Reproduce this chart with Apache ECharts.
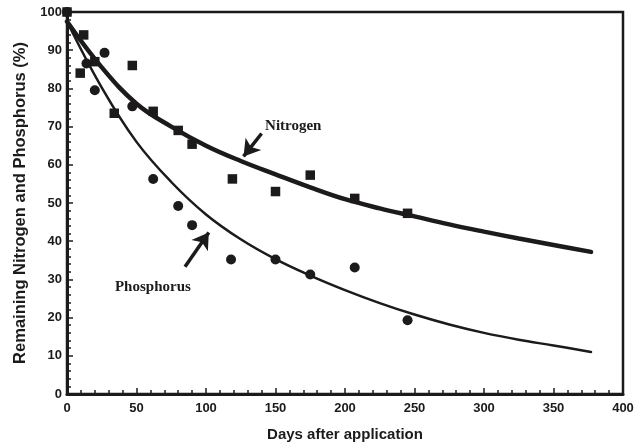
<!DOCTYPE html>
<html><head><meta charset="utf-8">
<script src="https://cdn.jsdelivr.net/npm/echarts@6/dist/echarts.min.js"></script>
<style>html,body{margin:0;padding:0;background:#fff}#c{width:637px;height:445px}</style>
</head><body><div id="c"></div>
<script>
// Observed data
const nitrogenDays = [0, 9.5, 12, 20, 34, 47, 62, 80, 90, 119, 150, 175, 207, 245];
const nitrogenVals = [100, 84, 94, 87, 73.5, 86, 74, 69, 65.4, 56.3, 53, 57.3, 51.2, 47.3];
const phosphorusDays = [0, 14, 20, 27, 47, 62, 80, 90, 118, 150, 175, 207, 245];
const phosphorusVals = [100, 86.5, 79.5, 89.3, 75.3, 56.3, 49.2, 44.2, 35.2, 35.2, 31.3, 33.1, 19.3];
// Fitted curves
const curveDays = [0, 25, 50, 75, 100, 125, 150, 175, 200, 225, 250, 275, 300, 325, 350, 377];
const nitrogenFit = [97.5, 85.5, 76, 70, 65, 61, 57.5, 54.1, 51, 48.6, 46.5, 44.4, 42.5, 40.7, 39, 37.2];
const phosphorusFit = [97.5, 80.2, 66, 55.5, 47, 40.5, 35.3, 31, 27.2, 23.8, 20.8, 18.2, 16, 14.2, 12.7, 11];
// Annotations
const labelNames = ['Nitrogen', 'Phosphorus'];
const labelPos = [[142.5, 70], [34.5, 28.1]];
const arrowFrom = [[140, 68.2], [84.9, 33.3]];
const arrowTo = [[127, 62.2], [102, 42.3]];
const xTicks = [0, 50, 100, 150, 200, 250, 300, 350, 400];
const yTicks = [0, 10, 20, 30, 40, 50, 60, 70, 80, 90, 100];

const zip = (a, b) => a.map((v, i) => [v, b[i]]);
const ink = '#1c1a1b';
const chart = echarts.init(document.getElementById('c'));
chart.setOption({
  animation: false,
  backgroundColor: '#fff',
  grid: { left: 67, right: 14, top: 12, bottom: 51, show: true, borderColor: ink, borderWidth: 2.5,
    outerBoundsMode: 'none', containLabel: false },
  xAxis: {
    type: 'value', min: xTicks[0], max: xTicks[xTicks.length - 1], interval: 50,
    name: 'Days after application', nameLocation: 'middle', nameGap: 33,
    nameTextStyle: { fontFamily: 'Liberation Sans', fontWeight: 'bold', fontSize: 15, color: ink },
    axisLine: { lineStyle: { color: ink, width: 3 } },
    axisTick: { inside: true, length: 6, lineStyle: { color: ink, width: 1.5 } },
    minorTick: { show: true, splitNumber: 5, length: 4, lineStyle: { color: ink, width: 1.5 } },
    axisLabel: { fontFamily: 'Liberation Sans', fontWeight: 'bold', fontSize: 13, color: ink, margin: 8 },
    splitLine: { show: false }
  },
  yAxis: {
    type: 'value', min: yTicks[0], max: yTicks[yTicks.length - 1], interval: 10,
    name: 'Remaining Nitrogen and Phosphorus (%)', nameLocation: 'middle', nameGap: 36,
    nameTextStyle: { fontFamily: 'Liberation Sans', fontWeight: 'bold', fontSize: 16.5, color: ink },
    axisLine: { lineStyle: { color: ink, width: 3 } },
    axisTick: { inside: true, length: 6, lineStyle: { color: ink, width: 1.5 } },
    minorTick: { show: true, splitNumber: 5, length: 4, lineStyle: { color: ink, width: 1.5 } },
    axisLabel: { fontFamily: 'Liberation Sans', fontWeight: 'bold', fontSize: 13, color: ink, margin: 5 },
    splitLine: { show: false }
  },
  series: [
    { type: 'line', data: zip(curveDays, nitrogenFit), smooth: 0.4, symbol: 'none',
      lineStyle: { color: ink, width: 4.5, cap: 'round' }, z: 2,
      markLine: { silent: true, symbol: ['none', 'arrow'], symbolSize: [15, 16],
        lineStyle: { color: ink, width: 3.5, type: 'solid' }, label: { show: false },
        data: [[{ coord: arrowFrom[0] }, { coord: arrowTo[0] }], [{ coord: arrowFrom[1] }, { coord: arrowTo[1] }]] },
      markPoint: { silent: true, symbol: 'circle', symbolSize: 0,
        label: { show: true, position: 'right', distance: 0, formatter: p => p.name,
          fontFamily: 'Liberation Serif', fontWeight: 'bold', fontSize: 15, color: ink },
        data: labelNames.map((n, i) => ({ name: n, coord: labelPos[i] })) }
    },
    { type: 'line', data: zip(curveDays, phosphorusFit), smooth: 0.4, symbol: 'none',
      lineStyle: { color: ink, width: 2.5, cap: 'round' }, z: 2 },
    { type: 'scatter', data: zip(nitrogenDays, nitrogenVals), symbol: 'rect', symbolSize: 9.5,
      itemStyle: { color: ink, opacity: 1 }, z: 3 },
    { type: 'scatter', data: zip(phosphorusDays, phosphorusVals), symbol: 'circle', symbolSize: 10,
      itemStyle: { color: ink, opacity: 1 }, z: 3 }
  ]
});
</script></body></html>
